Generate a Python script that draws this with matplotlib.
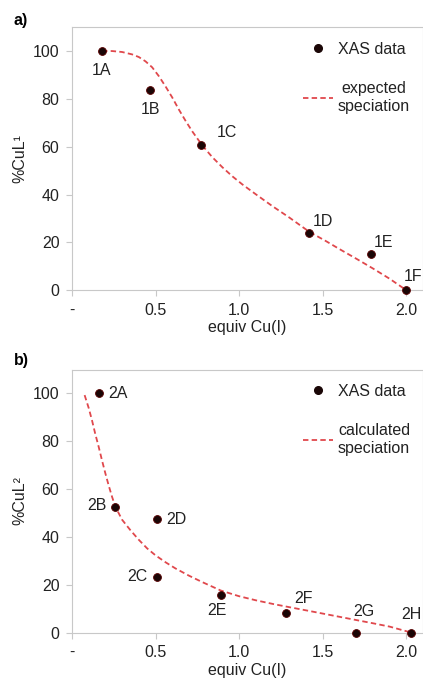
import matplotlib.pyplot as plt
from matplotlib.lines import Line2D

plt.rcParams['font.family'] = ['Liberation Sans', 'DejaVu Sans']

# Panel a: CuL1 titration
equiv_a = [0.18, 0.47, 0.77, 1.42, 1.79, 2.0]
pct_a = [100, 83.5, 60.5, 24, 15.3, 0]
names_a = ['1A', '1B', '1C', '1D', '1E', '1F']
label_offsets_a = [(-1, -19), (0, -19), (26, 13), (14, 11), (12, 11), (7, 14)]

curve_x_a = [0.18, 0.24, 0.30, 0.36, 0.40, 0.44, 0.48, 0.52, 0.56, 0.60, 0.64, 0.68,
             0.72, 0.78, 0.84, 0.90, 0.96, 1.02, 1.10, 1.20, 1.30, 1.42, 1.52, 1.60,
             1.70, 1.80, 1.90, 2.0]
curve_y_a = [100, 100, 99.6, 98.6, 97.5, 95.7, 93.2, 89.5, 85.2, 80.6, 75.5, 70.8,
             66.4, 60.5, 55.6, 51.4, 47.6, 44.2, 40.1, 35.1, 30.4, 24.4, 20.5, 17.2,
             13.2, 9.1, 4.8, 0]

# Panel b: CuL2 titration
equiv_b = [0.16, 0.26, 0.51, 0.51, 0.89, 1.28, 1.70, 2.03]
pct_b = [100, 52.6, 23.1, 47.4, 15.9, 8.1, 0, 0]
names_b = ['2A', '2B', '2C', '2D', '2E', '2F', '2G', '2H']
label_offsets_b = [(19, 0), (-18, 1), (-20, 1), (19, 0), (-4, -16), (18, 15), (8, 21), (0, 18)]

curve_x_b = [0.076, 0.10, 0.12, 0.14, 0.16, 0.18, 0.20, 0.22, 0.24, 0.26, 0.30, 0.35,
             0.40, 0.45, 0.50, 0.56, 0.62, 0.70, 0.78, 0.89, 1.00, 1.10, 1.20, 1.28,
             1.40, 1.50, 1.60, 1.70, 1.80, 1.90, 2.03]
curve_y_b = [99.3, 94, 88.8, 83, 77.7, 72, 66.6, 61.5, 56.8, 52.6, 47.2, 42.8,
             38.8, 35.2, 32.3, 29.4, 26.8, 23.8, 21.1, 17.6, 15.2, 13.5, 12.0, 10.9,
             9.3, 7.95, 6.6, 5.25, 3.9, 2.5, 0]

x_ticks = [0, 0.5, 1.0, 1.5, 2.0]
x_tick_labels = ['-', '0.5', '1.0', '1.5', '2.0']
y_ticks = [0, 20, 40, 60, 80, 100]

GRID_GRAY = '#c8c8c8'
CURVE_RED = '#e0484c'
DOT = '#1a0606'
INK = '#222222'
FS = 11.5


def draw_panel(ax, xs, ys, names, offsets, cx, cy, ylabel, curve_label):
    ax.plot(cx, cy, linestyle=(0, (3, 1.8)), color=CURVE_RED, linewidth=1.3, zorder=2)
    ax.scatter(xs, ys, s=32, color=DOT, edgecolors='#5a0000', linewidths=0.6, zorder=3,
               clip_on=False)
    for x, y, name, (dx, dy) in zip(xs, ys, names, offsets):
        ax.annotate(name, (x, y), xytext=(dx, dy), textcoords='offset pixels',
                    ha='center', va='center', fontsize=FS, color=INK)

    ax.set_xlim(0, 2.1)
    ax.set_ylim(0, 110)
    ax.set_xticks(x_ticks)
    ax.set_xticklabels(x_tick_labels)
    ax.set_yticks(y_ticks)
    ax.tick_params(axis='both', labelsize=FS, colors=GRID_GRAY, labelcolor=INK,
                   length=4, width=0.8)
    ax.tick_params(axis='x', pad=5)
    ax.tick_params(axis='y', pad=5)
    for side in ax.spines.values():
        side.set_color(GRID_GRAY)
        side.set_linewidth(0.8)

    ax.set_xlabel('equiv Cu(I)', fontsize=FS, color=INK, labelpad=2)
    ax.set_ylabel(ylabel, fontsize=FS, color=INK, labelpad=4)

    handles = [
        Line2D([], [], linestyle='none', marker='o', markersize=5.5, color=DOT),
        Line2D([], [], linestyle=(0, (3, 1.8)), color=CURVE_RED, linewidth=1.3),
    ]
    leg = ax.legend(handles, ['XAS data', curve_label], loc='upper left',
                    bbox_to_anchor=(0.635, 0.975), frameon=False, fontsize=FS,
                    handlelength=1.9, handletextpad=0.3, labelspacing=1.5, borderpad=0)
    for t in leg.get_texts():
        t.set_multialignment('center')
        t.set_linespacing(1.25)
        t.set_color(INK)


fig = plt.figure(figsize=(4.23, 6.78), dpi=100)
ax_a = fig.add_axes([0.170, 0.572, 0.830, 0.388])
ax_b = fig.add_axes([0.170, 0.067, 0.830, 0.388])

draw_panel(ax_a, equiv_a, pct_a, names_a, label_offsets_a, curve_x_a, curve_y_a,
           '%CuL¹', 'expected\nspeciation')
draw_panel(ax_b, equiv_b, pct_b, names_b, label_offsets_b, curve_x_b, curve_y_b,
           '%CuL²', 'calculated\nspeciation')

fig.text(0.033, 1 - 20 / 678, 'a)', fontsize=FS, fontweight='bold', va='center')
fig.text(0.033, 1 - 361 / 678, 'b)', fontsize=FS, fontweight='bold', va='center')

fig.savefig('out.png', dpi=100)
